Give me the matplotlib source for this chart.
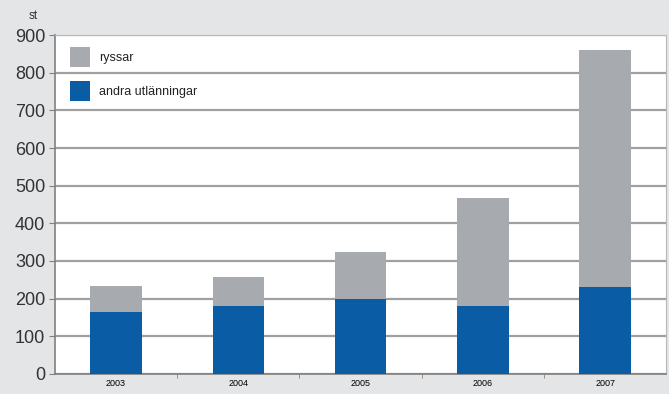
import numpy as np
import matplotlib.pyplot as plt

years = ['2003', '2004', '2005', '2006', '2007']
andra = [165, 180, 198, 180, 230]        # andra utlänningar
ryssar = [68, 77, 127, 286, 630]         # ryssar, stacked on top

BLUE = '#0a5da4'
GRAY = '#a7abaf'

fig = plt.figure(figsize=(6.69, 3.94), dpi=100)
fig.patch.set_facecolor('#e4e5e6')
ax = fig.add_axes([0.082, 0.051, 0.914, 0.860])
ax.set_facecolor('white')

x = np.arange(len(years))
ax.bar(x, andra, width=0.42, color=BLUE, label='andra utlänningar', zorder=3)
ax.bar(x, ryssar, width=0.42, bottom=andra, color=GRAY, label='ryssar', zorder=3)

ax.set_xlim(-0.5, len(years) - 0.5)
ax.set_ylim(0, 900)
ax.set_yticks(range(0, 901, 100))
ax.grid(True, axis='y', color='#a0a0a0', linewidth=1.6, zorder=1)

ax.set_xticks(x)
ax.set_xticklabels(years, fontsize=6.5, family='Liberation Sans')
ax.tick_params(axis='x', which='major', length=0, pad=4)
ax.set_xticks(np.arange(0.5, len(years) - 0.5, 1), minor=True)
ax.tick_params(axis='x', which='minor', length=3, color='#808080')
ax.tick_params(axis='y', labelsize=13, length=4, color='#808080', pad=3)
for lbl in ax.get_yticklabels():
    lbl.set_family('Liberation Sans')
    lbl.set_color('#333333')

for side in ['top', 'right']:
    ax.spines[side].set_color('#b8b8b8')
for side in ['left', 'bottom']:
    ax.spines[side].set_color('#808080')
    ax.spines[side].set_linewidth(1.2)

fig.text(0.043, 0.953, 'st', fontsize=8.5, family='Liberation Sans', color='#333333')

handles, labels = ax.get_legend_handles_labels()
leg = ax.legend(handles[::-1], labels[::-1], loc='upper left', frameon=False,
                prop={'family': 'Liberation Sans', 'size': 9},
                handlelength=1.6, handleheight=2.1,
                labelspacing=1.15, borderaxespad=0.0, handletextpad=0.75,
                bbox_to_anchor=(0.016, 0.98))
for t in leg.get_texts():
    t.set_color('#222222')

fig.savefig('out.png', dpi=100, facecolor=fig.get_facecolor())
